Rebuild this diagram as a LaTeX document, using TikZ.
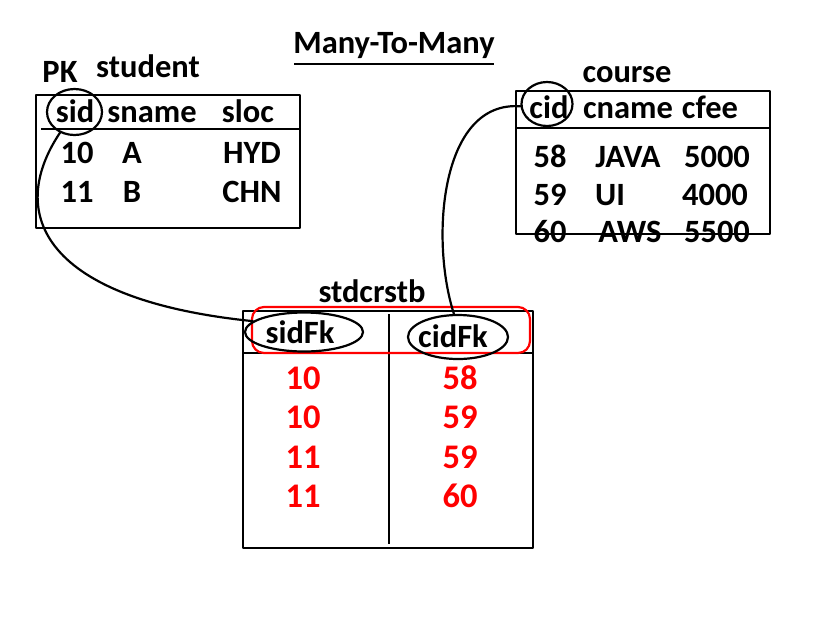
\documentclass[tikz,border=0pt]{standalone}
\usepackage{fontspec}
\setmainfont{Carlito}
\usetikzlibrary{shapes.geometric}
\begin{document}
\begin{tikzpicture}[x=1pt, y=-1pt, font=\fontsize{32.5}{36}\selectfont\bfseries, line join=round, line cap=round,
 txt/.style={anchor=base, inner sep=0pt},
 fkval/.style={txt, text=red, font=\fontsize{34.5}{38}\selectfont\bfseries},
 ring/.style={draw, ellipse, line width=2.2pt, inner sep=0pt},
 tbl/.style={line width=2.8pt, line cap=rect}]
 \useasboundingbox (0,0) rectangle (822,625);
 % title
 \node[txt] (title) at (394,53) {Many-To-Many};
 \draw[tbl] (295,64) -- (493,64);
 % student table
 \node[txt] (pk) at (60,82) {PK};
 \node[txt] (student) at (148,77) {student};
 \node[txt] (sid) at (75,122) {sid};
 \node[txt] (sname) at (152,122) {sname};
 \node[txt] (sloc) at (248,122) {sloc};
 \foreach \y/\a/\b/\c in {163/10/A/HYD, 202/11/B/CHN}
 {\node[txt] (stu-\a) at (77,\y) {\a};
  \node[txt] at (132,\y) {\b};
  \node[txt] at (252,\y) {\c};}
 \draw[tbl] (36,95) rectangle (300,228);
 \draw[tbl] (42,129) -- (300,129);
 % course table
 \node[txt] (course) at (627,82) {course};
 \node[txt] (cid) at (549,118) {cid};
 \node[txt] (cname) at (628,118) {cname};
 \node[txt] (cfee) at (710,118) {cfee};
 \foreach \y/\a/\xb/\b/\xc/\c in {167/58/628/JAVA/717/5000, 205/59/610/UI/715/4000, 242/60/630/AWS/717/5500}
 {\node[txt] (crs-\a) at (550,\y) {\a};
  \node[txt] at (\xb,\y) {\b};
  \node[txt] at (\xc,\y) {\c};}
 \draw[tbl] (516,91) rectangle (770,234);
 \draw[tbl] (516,128) -- (770,128);
 % stdcrstb table
 \node[txt] (stdcrstb) at (372,302) {stdcrstb};
 \node[txt] (sidfk) at (300,343) {sidFk};
 \node[txt] (cidfk) at (453,347) {cidFk};
 \foreach \y/\s/\c [count=\i] in {389/10/58, 428/10/59, 468/11/59, 507/11/60}
 {\node[fkval] (lnk-s\i) at (303,\y) {\s};
  \node[fkval] (lnk-c\i) at (460,\y) {\c};}
 \draw[tbl] (243,311) rectangle (533,548);
 \draw[tbl] (243,353) -- (533,353);
 \draw[tbl] (389,315) -- (389,543);
 \draw[red, line width=2.2pt, rounded corners=12pt] (252,307) rectangle (530,353);
 % keys
 \node[ring, minimum width=55pt, minimum height=46pt] (sidE) at (74.5,112) {};
 \node[ring, minimum width=51pt, minimum height=44pt] (cidE) at (547,104) {};
 \node[ring, minimum width=118pt, minimum height=39pt] (sidfkE) at (304,332) {};
 \node[ring, minimum width=100pt, minimum height=44pt] (cidfkE) at (458,337) {};
 % links
 \draw[line width=2.2pt] (sidE.235) .. controls (5,215) and (45,300) .. (sidfkE.168);
 \draw[line width=2.2pt] (cidE.185) .. controls (440,100) and (430,240) .. (cidfkE.100);
\end{tikzpicture}
\end{document}
